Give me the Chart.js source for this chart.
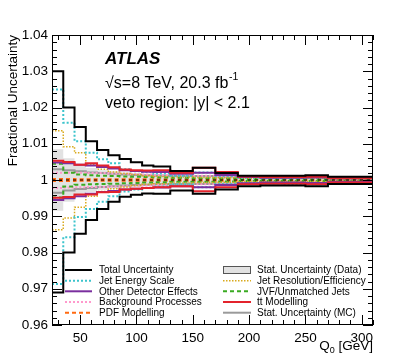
<!DOCTYPE html>
<html>
<head>
<meta charset="utf-8">
<script src="https://cdn.jsdelivr.net/npm/chart.js@4.4.1/dist/chart.umd.min.js"></script>
<style>
  html, body { margin: 0; padding: 0; background: #fff; }
  #wrap { width: 415px; height: 363px; }
</style>
</head>
<body>
<div id="wrap"><canvas id="chart" width="415" height="363"></canvas></div>
<script>
// Q0 bin edges [GeV]
const binEdges = [25, 35, 45, 55, 65, 75, 85, 95, 105, 115, 130, 150, 170, 190, 210, 230, 250, 270, 300, 310];
const xTicks = [50, 100, 150, 200, 250, 300];
const yTicks = [0.96, 0.97, 0.98, 0.99, 1, 1.01, 1.02, 1.03, 1.04];

// relative uncertainties in %, one value per bin
const totalUp      = [3.0, 2.0, 1.46, 1.07, 0.83, 0.68, 0.58, 0.49, 0.40, 0.37, 0.25, 0.34, 0.19, 0.12, 0.12, 0.12, 0.13, 0.09, 0.09];
const totalDown    = [-3.1, -2.0, -1.48, -1.1, -0.8, -0.6, -0.46, -0.41, -0.37, -0.38, -0.29, -0.38, -0.26, -0.17, -0.15, -0.15, -0.17, -0.11, -0.11];
const jesUp        = [2.5, 1.58, 1.07, 0.75, 0.57, 0.46, 0.30, 0.24, 0.22, 0.18, 0.12, 0.21, 0.12, 0.06, 0.05, 0.05, 0.07, 0.04, 0.04];
const jesDown      = [-2.87, -1.58, -1.02, -0.8, -0.6, -0.45, -0.32, -0.26, -0.22, -0.18, -0.12, -0.20, -0.12, -0.08, -0.09, -0.12, -0.12, -0.06, -0.06];
const otherUp      = [0.48, 0.46, 0.42, 0.40, 0.36, 0.32, 0.27, 0.25, 0.23, 0.22, 0.17, 0.20, 0.14, 0.08, 0.06, 0.06, 0.07, 0.05, 0.05];
const otherDown    = [-0.55, -0.50, -0.45, -0.38, -0.33, -0.30, -0.26, -0.24, -0.22, -0.21, -0.17, -0.20, -0.14, -0.09, -0.07, -0.07, -0.08, -0.05, -0.05];
const bkgUp        = [0.20, 0.20, 0.20, 0.19, 0.19, 0.18, 0.17, 0.16, 0.15, 0.14, 0.12, 0.12, 0.10, 0.08, 0.06, 0.06, 0.06, 0.05, 0.05];
const bkgDown      = [-0.22, -0.21, -0.20, -0.19, -0.19, -0.18, -0.17, -0.16, -0.15, -0.14, -0.12, -0.12, -0.10, -0.08, -0.06, -0.06, -0.06, -0.05, -0.05];
const pdfUp        = [0.03, 0.03, 0.02, 0.02, 0.02, 0.02, 0.02, 0.02, 0.02, 0.02, 0.02, 0.02, 0.02, 0.01, 0.01, 0.01, 0.01, 0.01, 0.01];
const pdfDown      = [-0.03, -0.03, -0.02, -0.02, -0.02, -0.02, -0.02, -0.02, -0.02, -0.02, -0.02, -0.02, -0.02, -0.01, -0.01, -0.01, -0.01, -0.01, -0.01];
const statDataUp   = [0.85, 0.60, 0.42, 0.33, 0.27, 0.24, 0.21, 0.19, 0.17, 0.15, 0.13, 0.13, 0.11, 0.10, 0.10, 0.10, 0.11, 0.08, 0.08];
const statDataDown = [-0.85, -0.60, -0.42, -0.33, -0.27, -0.24, -0.21, -0.19, -0.17, -0.15, -0.13, -0.13, -0.11, -0.12, -0.12, -0.12, -0.13, -0.09, -0.09];
const jerUp        = [1.36, 0.92, 0.75, 0.42, 0.30, 0.22, 0.18, 0.15, 0.12, 0.10, 0.08, 0.07, 0.06, 0.05, 0.04, 0.04, 0.04, 0.03, 0.03];
const jerDown      = [-1.37, -1.05, -0.75, -0.45, -0.32, -0.24, -0.19, -0.15, -0.12, -0.10, -0.08, -0.07, -0.06, -0.05, -0.04, -0.04, -0.04, -0.03, -0.03];
const jvfUp        = [0.45, 0.20, 0.15, 0.13, 0.12, 0.11, 0.10, 0.09, 0.08, 0.07, 0.06, 0.05, 0.04, 0.03, 0.03, 0.03, 0.03, 0.02, 0.02];
const jvfDown      = [-0.48, -0.18, -0.13, -0.12, -0.11, -0.10, -0.09, -0.08, -0.07, -0.06, -0.05, -0.05, -0.04, -0.03, -0.03, -0.03, -0.03, -0.02, -0.02];
const ttUp         = [0.53, 0.50, 0.42, 0.46, 0.40, 0.35, 0.29, 0.27, 0.26, 0.27, 0.20, 0.34, 0.22, 0.10, 0.08, 0.08, 0.09, 0.05, 0.05];
const ttDown       = [-0.49, -0.47, -0.40, -0.40, -0.34, -0.33, -0.26, -0.24, -0.22, -0.20, -0.17, -0.31, -0.20, -0.12, -0.10, -0.10, -0.12, -0.07, -0.07];
const statMcUp     = [0.30, 0.27, 0.24, 0.21, 0.19, 0.17, 0.15, 0.14, 0.13, 0.12, 0.11, 0.11, 0.10, 0.08, 0.07, 0.07, 0.08, 0.06, 0.06];
const statMcDown   = [-0.35, -0.29, -0.25, -0.22, -0.19, -0.17, -0.15, -0.14, -0.13, -0.12, -0.11, -0.11, -0.10, -0.08, -0.07, -0.07, -0.08, -0.06, -0.06];

const FONT = '"Liberation Sans", Arial, Helvetica, sans-serif';

// histogram as step points: left edge of every bin + closing right edge
function steps(vals) {
  const pts = vals.map((v, i) => ({ x: binEdges[i], y: 1 + v / 100 }));
  pts.push({ x: binEdges[vals.length], y: 1 + vals[vals.length - 1] / 100 });
  return pts;
}

function line(vals, color, width, dash, order) {
  return {
    data: steps(vals),
    stepped: 'before',
    borderColor: color,
    borderWidth: width,
    borderDash: dash || [],
    borderCapStyle: 'butt',
    borderJoinStyle: 'miter',
    pointRadius: 0,
    fill: false,
    order: order
  };
}

const series = [
  { label: 'Total Uncertainty', up: totalUp, down: totalDown, color: '#000000', width: 2, dash: [], order: 1 },
  { label: 'Jet Energy Scale', up: jesUp, down: jesDown, color: '#3cc4cc', width: 2, dash: [2, 2], order: 6 },
  { label: 'Other Detector Effects', up: otherUp, down: otherDown, color: '#7a2f9e', width: 2, dash: [], order: 4 },
  { label: 'Background Processes', up: bkgUp, down: bkgDown, color: '#ff99cc', width: 2, dash: [2, 2], order: 9 },
  { label: 'PDF Modelling', up: pdfUp, down: pdfDown, color: '#ff6a10', width: 2, dash: [4, 3], order: 11 },
  { label: 'Jet Resolution/Efficiency', up: jerUp, down: jerDown, color: '#d9aa1e', width: 1.5, dash: [1.5, 1.5], order: 7 },
  { label: 'JVF/Unmatched Jets', up: jvfUp, down: jvfDown, color: '#3aaa22', width: 2, dash: [4, 3], order: 8 },
  { label: 'tt Modelling', up: ttUp, down: ttDown, color: '#e3232c', width: 2, dash: [], order: 3 },
  { label: 'Stat. Uncertainty (MC)', up: statMcUp, down: statMcDown, color: '#9a9a9a', width: 2, dash: [], order: 10 }
];

const datasets = [];
// data statistical uncertainty as a filled band
datasets.push({ data: steps(statDataUp), stepped: 'before', borderWidth: 0, borderColor: 'rgba(0,0,0,0)', pointRadius: 0, fill: false, order: 20 });
datasets.push({ data: steps(statDataDown), stepped: 'before', borderWidth: 0, borderColor: 'rgba(0,0,0,0)', pointRadius: 0, fill: '-1', backgroundColor: '#e2e2e2', order: 20 });
series.forEach(s => {
  datasets.push(line(s.up, s.color, s.width, s.dash, s.order));
  datasets.push(line(s.down, s.color, s.width, s.dash, s.order));
});

function drawLegendLine(ctx, x1, x2, y, s) {
  ctx.strokeStyle = s.color;
  ctx.lineWidth = s.width;
  ctx.setLineDash(s.dash);
  ctx.beginPath();
  ctx.moveTo(x1, y);
  ctx.lineTo(x2, y);
  ctx.stroke();
  ctx.setLineDash([]);
}

const decorations = {
  id: 'decorations',
  afterDatasetsDraw(chart) {
    const { ctx, chartArea: a, scales: { x, y } } = chart;
    ctx.save();

    // reference line at 1
    const y1 = y.getPixelForValue(1);
    ctx.strokeStyle = '#000';
    ctx.lineWidth = 1;
    ctx.setLineDash([3, 4]);
    ctx.beginPath();
    ctx.moveTo(a.left, y1);
    ctx.lineTo(a.right, y1);
    ctx.stroke();
    ctx.setLineDash([]);

    // frame
    ctx.strokeStyle = '#000';
    ctx.lineWidth = 1;
    ctx.strokeRect(a.left + 0.5, a.top + 0.5, a.right - a.left - 1, a.bottom - a.top - 1);

    // ticks pointing inwards on all four sides
    ctx.beginPath();
    for (let v = 30; v <= 310; v += 10) {
      const px = Math.round(x.getPixelForValue(v)) + 0.5;
      const len = v % 50 === 0 ? 10 : 5;
      ctx.moveTo(px, a.bottom); ctx.lineTo(px, a.bottom - len);
      ctx.moveTo(px, a.top); ctx.lineTo(px, a.top + len);
    }
    for (let k = 0; k <= 40; k++) {
      const py = Math.round(y.getPixelForValue(0.96 + k * 0.002)) + 0.5;
      const len = k % 5 === 0 ? 10 : 5;
      ctx.moveTo(a.left, py); ctx.lineTo(a.left + len, py);
      ctx.moveTo(a.right, py); ctx.lineTo(a.right - len, py);
    }
    ctx.stroke();
    ctx.restore();
  },
  afterDraw(chart) {
    const { ctx, chartArea: a } = chart;
    ctx.save();
    ctx.fillStyle = '#000';
    ctx.textBaseline = 'alphabetic';

    // axis titles
    ctx.save();
    ctx.translate(17, a.top);
    ctx.rotate(-Math.PI / 2);
    ctx.textAlign = 'right';
    ctx.font = '13.5px ' + FONT;
    ctx.fillText('Fractional Uncertainty', 0, 0);
    ctx.restore();

    ctx.textAlign = 'left';
    const big = '13.5px ' + FONT, sub = '9px ' + FONT;
    ctx.font = big; const wQ = ctx.measureText('Q').width; const wG = ctx.measureText(' [GeV]').width;
    ctx.font = sub; const w0 = ctx.measureText('0').width;
    let tx = a.right - (wQ + w0 + wG);
    ctx.font = big; ctx.fillText('Q', tx, 350);
    ctx.font = sub; ctx.fillText('0', tx + wQ, 353);
    ctx.font = big; ctx.fillText(' [GeV]', tx + wQ + w0, 350);

    // ATLAS label
    ctx.font = 'italic bold 17px ' + FONT;
    ctx.fillText('ATLAS', 105, 64);
    ctx.font = '16px ' + FONT;
    const t1 = '\u221As=8 TeV, 20.3 fb';
    ctx.fillText(t1, 105, 88);
    const w1 = ctx.measureText(t1).width;
    ctx.font = '10.5px ' + FONT;
    ctx.fillText('-1', 105 + w1 + 0.5, 80);
    ctx.font = '16px ' + FONT;
    ctx.fillText('veto region: |y| < 2.1', 105, 108);

    // legend
    const rows = [270, 280.7, 291.3, 302, 312.7];
    ctx.font = '10px ' + FONT;
    ctx.textBaseline = 'middle';
    const left = [0, 1, 2, 3, 4];
    left.forEach((si, r) => {
      drawLegendLine(ctx, 65, 92, rows[r], series[si]);
      ctx.fillStyle = '#000';
      ctx.fillText(series[si].label, 99, rows[r] + 0.5);
    });
    // data stat box
    ctx.fillStyle = '#e2e2e2';
    ctx.fillRect(223, rows[0] - 3.5, 28, 7);
    ctx.strokeStyle = '#555';
    ctx.lineWidth = 1;
    ctx.strokeRect(223.5, rows[0] - 3.5, 27, 7);
    ctx.fillStyle = '#000';
    ctx.fillText('Stat. Uncertainty (Data)', 257, rows[0] + 0.5);
    [5, 6, 7, 8].forEach((si, r) => {
      drawLegendLine(ctx, 223, 251, rows[r + 1], series[si]);
      ctx.fillStyle = '#000';
      ctx.fillText(series[si].label, 257, rows[r + 1] + 0.5);
    });
    ctx.restore();
  }
};

new Chart(document.getElementById('chart'), {
  type: 'line',
  data: { datasets },
  options: {
    responsive: false,
    devicePixelRatio: 1,
    animation: false,
    layout: { padding: { left: 0, right: 42, top: 35, bottom: 0 } },
    plugins: { legend: { display: false }, tooltip: { enabled: false } },
    scales: {
      x: {
        type: 'linear',
        min: 25,
        max: 310,
        afterBuildTicks: s => { s.ticks = xTicks.map(v => ({ value: v })); },
        afterFit: s => { s.height = 38; },
        grid: { display: false, drawTicks: false },
        border: { display: false },
        ticks: { autoSkip: false, maxRotation: 0, padding: 5, color: '#000', font: { family: FONT, size: 13.5 } }
      },
      y: {
        type: 'linear',
        min: 0.96,
        max: 1.04,
        afterBuildTicks: s => { s.ticks = yTicks.map(v => ({ value: v })); },
        afterFit: s => { s.width = 52; },
        grid: { display: false, drawTicks: false },
        border: { display: false },
        ticks: {
          autoSkip: false,
          padding: 4,
          color: '#000',
          font: { family: FONT, size: 13.5 },
          callback: v => String(Number(v.toFixed(2)))
        }
      }
    }
  },
  plugins: [decorations]
});
</script>
</body>
</html>
